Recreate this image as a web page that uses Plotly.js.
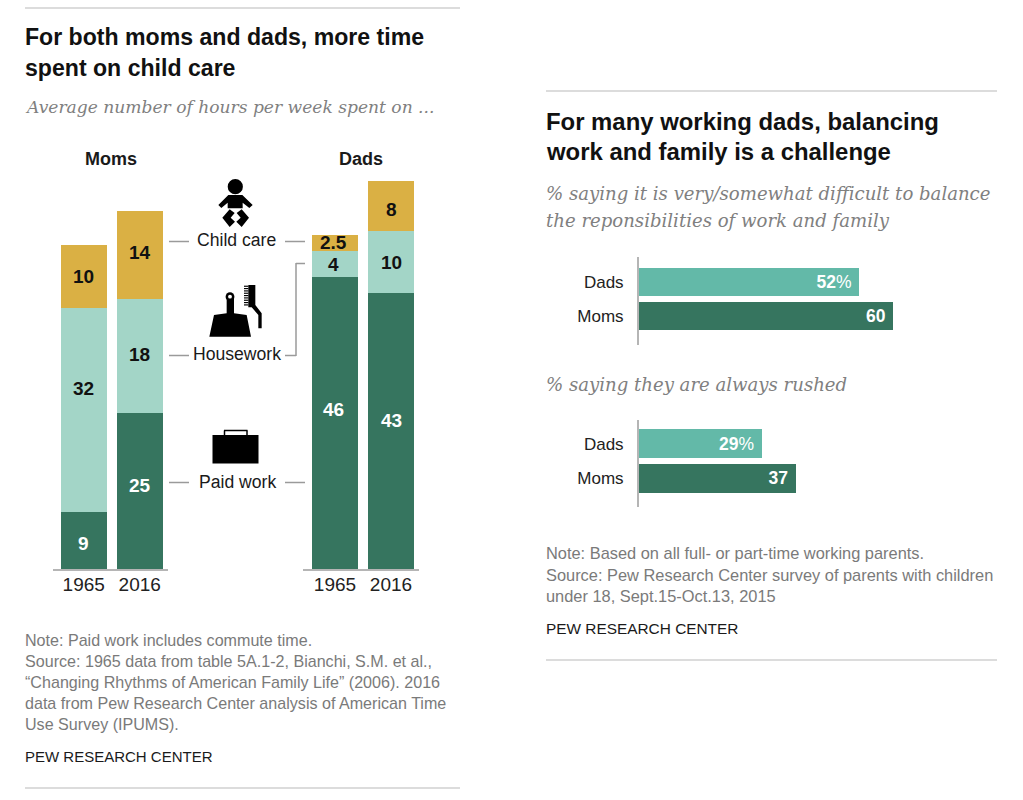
<!DOCTYPE html>
<html><head><meta charset="utf-8">
<script src="https://cdn.plot.ly/plotly-3.0.1.min.js"></script>
<style>html,body{margin:0;padding:0;background:#fff;overflow:hidden}</style>
</head><body><div id="chart" style="width:1023px;height:800px"></div>
<script>
// ---- data ----
const years = ['1965', '2016'];
const momsPaid = [9, 24.5];
const momsHouse = [32, 17.9];
const momsChild = [9.9, 13.8];
const dadsPaid = [45.9, 43.3];
const dadsHouse = [4.1, 9.8];
const dadsChild = [2.4, 7.8];
const momsPaidLabels = ['9', '25'];
const momsHouseLabels = ['32', '18'];
const momsChildLabels = ['10', '14'];
const dadsPaidLabels = ['46', '43'];
const dadsHouseLabels = ['4', '10'];
const dadsChildLabels = ['2.5', '8'];
const parents = ['Dads', 'Moms'];
const difficult = [52, 60];
const rushed = [29, 37];

// ---- style ----
const W = 1023, H = 800;
const SANS = '"Liberation Sans", Arial, sans-serif';
const SERIF = '"DejaVu Serif", serif';
const DARK = '#36755f', MID = '#a3d5c7', GOLD = '#dab044', TEAL = '#63b9a8', AXIS = '#b5b5b5', RULE = '#b9b9b9', LEAD = '#9a9a9a';
const PX_PER_HOUR = 6.37, PX_PER_PCT = 4.24;
const fx = p => p / W, fy = p => 1 - p / H;

function stack(xa, ya, y, color) {
  return {type: 'bar', x: years, y, xaxis: xa, yaxis: ya, width: 46 / 56,
    marker: {color, line: {width: 0}}, hoverinfo: 'skip'};
}
function hbar(xa, ya, vals) {
  return {type: 'bar', orientation: 'h', y: parents, x: vals, xaxis: xa, yaxis: ya, width: 0.85,
    marker: {color: [TEAL, DARK], line: {width: 0}},
    text: vals.map((v, i) => '<b>' + v + '</b>' + (i === 0 ? '%' : '') + '\u00a0'),
    textposition: 'inside', insidetextanchor: 'end', textangle: 0, constraintext: 'none',
    textfont: {family: SANS, size: 17.5, color: '#fff'}, hoverinfo: 'skip'};
}
const data = [
  stack('x', 'y', momsPaid, DARK), stack('x', 'y', momsHouse, MID), stack('x', 'y', momsChild, GOLD),
  stack('x2', 'y2', dadsPaid, DARK), stack('x2', 'y2', dadsHouse, MID), stack('x2', 'y2', dadsChild, GOLD),
  hbar('x3', 'y3', difficult), hbar('x4', 'y4', rushed)
];

function yearAxis(px0, px1, center0) {
  return {domain: [fx(px0), fx(px1)], type: 'category', categoryorder: 'array', categoryarray: years,
    range: [(px0 - center0) / 56, (px1 - center0) / 56], showline: true, linecolor: AXIS, linewidth: 2,
    showgrid: false, zeroline: false, ticks: '', ticklabelstandoff: -3,
    tickfont: {family: SANS, size: 19, color: '#222'}, fixedrange: true};
}
function hoursAxis(anchor) {
  return {domain: [fy(569), fy(170)], range: [0, 399 / PX_PER_HOUR], visible: false, anchor, fixedrange: true};
}
function pctAxis(anchor) {
  return {domain: [fx(639), fx(639 + 70 * PX_PER_PCT)], range: [0, 70], visible: false, anchor, fixedrange: true};
}
function parentAxis(top, bottom, c0, pitch, anchor) {
  return {domain: [fy(bottom), fy(top)], type: 'category', categoryorder: 'array', categoryarray: parents,
    range: [(bottom - c0) / pitch, (top - c0) / pitch], anchor, showline: true, linecolor: AXIS, linewidth: 2,
    showgrid: false, zeroline: false, ticks: 'outside', ticklen: 10, tickcolor: 'rgba(0,0,0,0)',
    tickfont: {family: SANS, size: 17, color: '#222'}, fixedrange: true};
}

// ---- text ----
function label(x, y, text, size, color, opts) {
  return Object.assign({xref: 'paper', yref: 'paper', x: fx(x), y: fy(y), text, showarrow: false,
    xanchor: 'left', yanchor: 'middle', align: 'left', borderpad: 0,
    font: {family: SANS, size, color}}, opts || {});
}
const serif = (x, y, t, s) => label(x - 1, y, '<i>' + t + '</i>', s, '#808080', {font: {family: SERIF, size: s, color: '#808080'}});
const note = (x, y, t, s) => label(x - 1, y, t, s, '#7a7a7a');
const mid = (x, y, t, s) => label(x, y, t, s, '#1a1a1a', {xanchor: 'center'});
const inBar = (x, y, t, c) => label(x, y, '<b>' + t + '</b>', 19, c, {xanchor: 'center'});
const annotations = [
  label(24, 37, '<b>For both moms and dads, more time</b>', 23.1, '#111'),
  label(24, 68, '<b>spent on child care</b>', 23.1, '#111'),
  serif(25, 107, 'Average number of hours per week spent on ...', 17.1),
  mid(111, 159, '<b>Moms</b>', 18), mid(361, 159, '<b>Dads</b>', 18),
  mid(236, 240, 'Child care', 17.6), mid(237, 354, 'Housework', 17.6), mid(237, 482, 'Paid work', 17.6),
  // segment labels, moms then dads, 1965 then 2016
  inBar(83.7, 543, momsPaidLabels[0], '#fff'), inBar(139.6, 485.5, momsPaidLabels[1], '#fff'),
  inBar(83.7, 388, momsHouseLabels[0], '#111'), inBar(139.6, 354, momsHouseLabels[1], '#111'),
  inBar(83.7, 276.5, momsChildLabels[0], '#111'), inBar(139.6, 252.5, momsChildLabels[1], '#111'),
  inBar(333, 410, dadsPaidLabels[0], '#fff'), inBar(391, 420, dadsPaidLabels[1], '#fff'),
  inBar(333, 264, dadsHouseLabels[0], '#111'), inBar(391, 262.5, dadsHouseLabels[1], '#111'),
  inBar(333, 242.5, dadsChildLabels[0], '#111'), inBar(391, 209, dadsChildLabels[1], '#111'),
  note(25, 640, 'Note: Paid work includes commute time.', 16.1),
  note(25, 661, 'Source: 1965 data from table 5A.1-2, Bianchi, S.M. et al.,', 16.1),
  note(25, 682, '“Changing Rhythms of American Family Life” (2006). 2016', 16.1),
  note(25, 703, 'data from Pew Research Center analysis of American Time', 16.1),
  note(25, 724, 'Use Survey (IPUMS).', 16.1),
  label(24, 756, 'PEW RESEARCH CENTER', 15, '#1a1a1a'),
  label(545, 122, '<b>For many working dads, balancing</b>', 23.9, '#111'),
  label(545, 152, '<b>work and family is a challenge</b>', 23.9, '#111'),
  serif(546, 194, '% saying it is very/somewhat difficult to balance', 18.1),
  serif(546, 220, 'the reponsibilities of work and family', 18.1),
  serif(546, 385, '% saying they are always rushed', 18.1),
  note(546, 552.5, 'Note: Based on all full- or part-time working parents.', 16.4),
  note(546, 574.5, 'Source: Pew Research Center survey of parents with children', 16.4),
  note(546, 595.5, 'under 18, Sept.15-Oct.13, 2015', 16.4),
  label(545, 628, 'PEW RESEARCH CENTER', 15.4, '#1a1a1a')
];

// ---- rules, leader lines, icons (page pixel coordinates) ----
const seg = (x0, y0, x1, y1, c, w) => ({type: 'line', xref: 'paper', yref: 'paper', x0: fx(x0), y0: fy(y0), x1: fx(x1), y1: fy(y1), line: {color: c, width: w}});
function poly(pts, fill) {
  const d = pts.map((p, i) => (i ? 'L' : 'M') + fx(p[0]) + ',' + fy(p[1])).join(' ') + ' Z';
  return {type: 'path', xref: 'paper', yref: 'paper', path: d, fillcolor: fill || '#000', line: {width: 0}};
}
const disc = (cx, cy, r, fill) => ({type: 'circle', xref: 'paper', yref: 'paper', x0: fx(cx - r), x1: fx(cx + r), y0: fy(cy + r), y1: fy(cy - r), fillcolor: fill || '#000', line: {width: 0}});
const z = pts => pts.map(p => [190 + p[0] / 3, 170 + p[1] / 3]);
const mirror = pts => pts.map(p => [274 - p[0], p[1]]);

const legL = [[97, 143], [119, 118], [134, 129], [122, 143], [135, 155], [119, 171]];
const bristles = [];
for (let yy = 347; yy < 410; yy += 7) bristles.push(poly(z([[162, yy], [175, yy], [175, yy + 3.5], [162, yy + 3.5]])));

const shapes = [
  seg(25, 8, 460, 8, RULE, 1.2), seg(25, 788, 460, 788, RULE, 1.2),
  seg(546, 91, 997, 91, RULE, 1.2), seg(546, 660, 997, 660, RULE, 1.2),
  seg(169, 241.5, 189, 241.5, LEAD, 1.5), seg(285, 241.5, 305, 241.5, LEAD, 1.5),
  seg(169, 355.5, 189, 355.5, LEAD, 1.5), seg(285, 355.5, 296, 355.5, LEAD, 1.5),
  seg(296, 356, 296, 263, LEAD, 1.5), seg(296, 263.5, 305, 263.5, LEAD, 1.5),
  seg(169, 482.5, 189, 482.5, LEAD, 1.5), seg(285, 482.5, 305, 482.5, LEAD, 1.5),
  // baby
  disc(235.3, 186.7, 7.6),
  poly(z([[85, 105], [115, 75], [157, 75], [188, 105], [178, 114], [158, 98], [158, 115], [113, 115], [113, 98], [94, 114]])),
  poly(z(legL)), poly(z(mirror(legL))),
  // dust pan
  poly(z([[58, 500], [72, 435], [110, 430], [110, 380], [132, 380], [132, 430], [170, 435], [183, 500]])),
  disc(230, 296.7, 4.4), disc(230, 296.7, 1.9, '#fff'),
  // brush
  poly(z([[175, 345], [196, 345], [196, 405], [215, 430], [215, 475], [205, 475], [205, 435], [185, 412], [175, 412]])),
  ...bristles,
  // briefcase
  poly([[212.5, 435], [258.5, 435], [258.5, 463.5], [212.5, 463.5]]),
  seg(224.5, 436, 224.5, 430.5, '#000', 1.5), seg(224, 430.5, 247.5, 430.5, '#000', 1.5), seg(247, 430.5, 247, 436, '#000', 1.5)
];

const layout = {
  width: W, height: H, margin: {l: 0, r: 0, t: 0, b: 0}, paper_bgcolor: '#fff', plot_bgcolor: 'rgba(0,0,0,0)',
  barmode: 'stack', showlegend: false, hovermode: false,
  xaxis: yearAxis(53, 168, 83.7), yaxis: hoursAxis('x'),
  xaxis2: yearAxis(302.5, 418.5, 335), yaxis2: hoursAxis('x2'),
  xaxis3: pctAxis('y3'), yaxis3: parentAxis(257, 345, 282, 34, 'x3'),
  xaxis4: pctAxis('y4'), yaxis4: parentAxis(420, 507, 443.8, 34.4, 'x4'),
  annotations, shapes
};
layout.xaxis.anchor = 'y'; layout.xaxis2.anchor = 'y2';
Plotly.newPlot('chart', data, layout, {displayModeBar: false, staticPlot: true});
</script></body></html>
